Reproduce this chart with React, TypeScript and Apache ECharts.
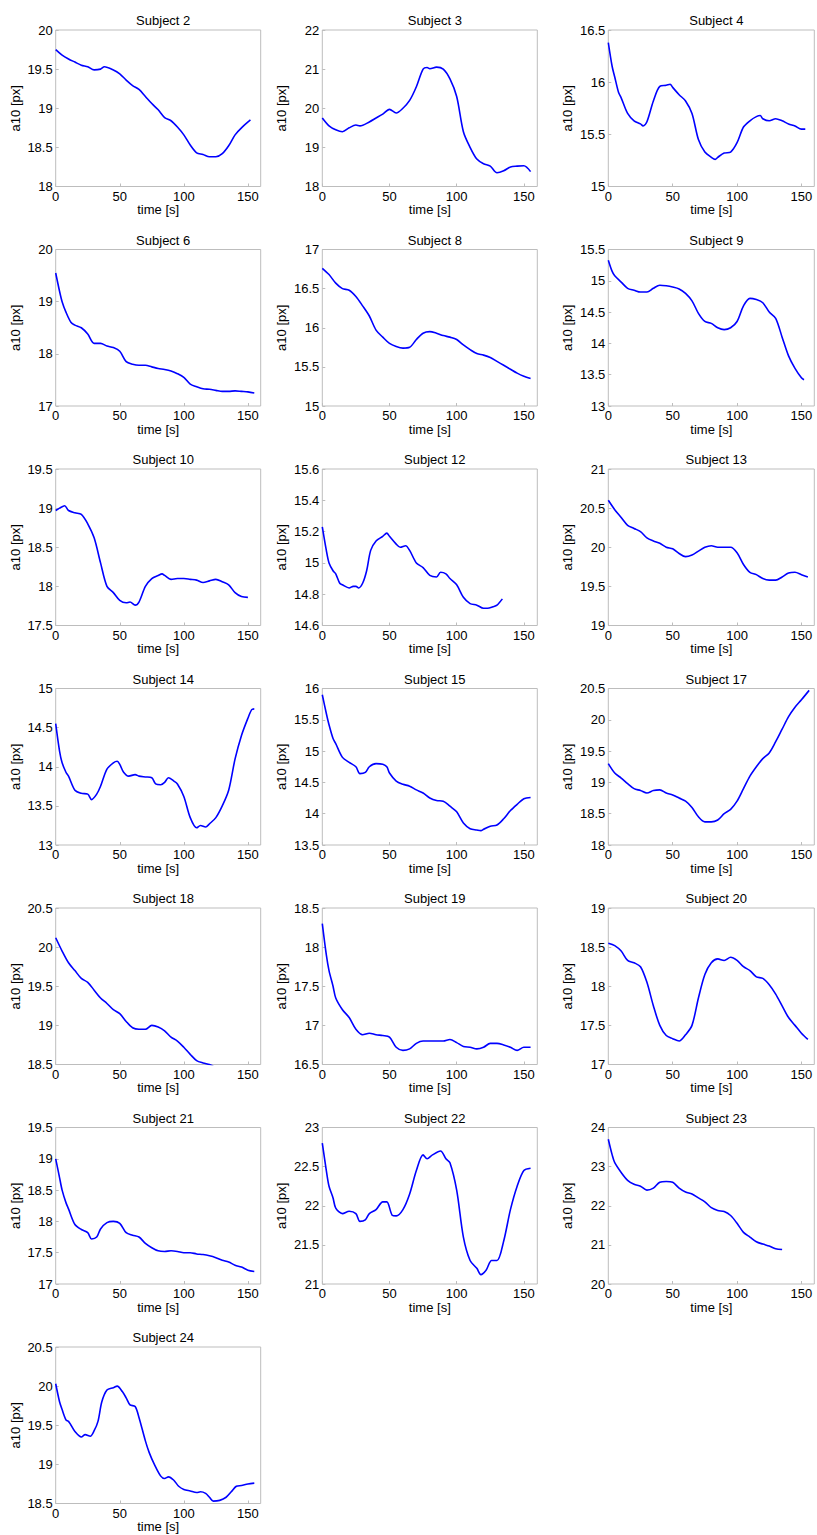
import React, { useEffect, useRef } from "react";
import * as echarts from "echarts";

// ---- data: [time s, a10 px] ----
const s2 = [[0,19.75],[5,19.68],[10,19.63],[15,19.59],[20,19.55],[25,19.53],[30,19.49],[35,19.5],[38,19.53],[45,19.49],[50,19.44],[55,19.36],[60,19.29],[65,19.24],[70,19.15],[75,19.06],[80,18.98],[85,18.88],[90,18.84],[95,18.76],[100,18.66],[105,18.53],[110,18.43],[115,18.41],[120,18.38],[125,18.38],[130,18.42],[135,18.52],[140,18.66],[145,18.75],[152,18.85]];
const s3 = [[0,19.75],[5,19.55],[10,19.45],[15,19.4],[20,19.5],[25,19.57],[28,19.55],[35,19.65],[40,19.75],[45,19.85],[50,19.97],[55,19.88],[60,20.0],[65,20.2],[70,20.55],[75,21.0],[78,21.04],[80,21.01],[85,21.05],[90,21.0],[95,20.75],[100,20.3],[105,19.4],[110,19.0],[115,18.7],[120,18.58],[125,18.52],[130,18.35],[135,18.4],[140,18.5],[145,18.52],[150,18.53],[155,18.38]];
const s4 = [[0,16.38],[3,16.15],[5,16.05],[8,15.9],[10,15.85],[15,15.7],[20,15.63],[25,15.6],[27,15.58],[30,15.62],[35,15.82],[40,15.96],[45,15.97],[48,15.98],[50,15.95],[55,15.88],[60,15.82],[65,15.7],[70,15.45],[75,15.33],[80,15.28],[83,15.26],[85,15.28],[90,15.32],[95,15.33],[100,15.42],[105,15.57],[110,15.63],[115,15.67],[118,15.68],[120,15.65],[125,15.63],[130,15.65],[135,15.63],[140,15.6],[145,15.58],[150,15.55],[153,15.55]];
const s6 = [[0,19.55],[3,19.2],[5,19.0],[8,18.8],[12,18.6],[15,18.55],[20,18.5],[25,18.38],[30,18.2],[35,18.2],[40,18.15],[45,18.12],[50,18.05],[55,17.85],[60,17.8],[65,17.78],[70,17.78],[75,17.75],[80,17.72],[85,17.7],[90,17.67],[95,17.62],[100,17.55],[105,17.42],[110,17.37],[115,17.33],[120,17.32],[125,17.3],[130,17.28],[135,17.28],[140,17.29],[145,17.28],[150,17.27],[155,17.25]];
const s8 = [[0,16.76],[5,16.68],[10,16.57],[15,16.5],[20,16.48],[25,16.4],[30,16.28],[35,16.15],[40,15.97],[45,15.88],[50,15.8],[55,15.76],[60,15.74],[65,15.75],[70,15.85],[75,15.93],[80,15.95],[85,15.93],[90,15.9],[95,15.88],[100,15.85],[105,15.78],[110,15.72],[115,15.67],[120,15.65],[125,15.62],[130,15.57],[135,15.52],[140,15.47],[145,15.42],[150,15.38],[155,15.35]];
const s9 = [[0,15.33],[3,15.15],[5,15.08],[10,14.98],[15,14.88],[20,14.85],[25,14.82],[30,14.82],[35,14.88],[40,14.93],[45,14.92],[50,14.9],[55,14.87],[60,14.8],[65,14.68],[70,14.48],[75,14.35],[80,14.32],[85,14.25],[90,14.22],[95,14.25],[100,14.35],[105,14.6],[110,14.72],[115,14.7],[120,14.65],[125,14.5],[130,14.4],[135,14.1],[140,13.8],[145,13.6],[150,13.45],[152,13.42]];
const s10 = [[0,18.97],[3,19.0],[7,19.03],[10,18.97],[15,18.94],[20,18.92],[25,18.8],[30,18.62],[35,18.3],[40,18.0],[45,17.92],[50,17.82],[55,17.79],[58,17.8],[62,17.76],[65,17.8],[70,18.0],[75,18.1],[80,18.14],[83,18.16],[85,18.14],[90,18.09],[95,18.1],[100,18.1],[105,18.09],[110,18.08],[115,18.05],[120,18.07],[125,18.09],[130,18.06],[135,18.02],[140,17.92],[145,17.87],[150,17.86]];
const s12 = [[0,15.23],[3,15.08],[5,15.0],[8,14.95],[10,14.93],[13,14.87],[15,14.86],[20,14.84],[23,14.85],[25,14.85],[27,14.84],[30,14.87],[33,14.95],[36,15.08],[40,15.14],[45,15.17],[48,15.19],[50,15.17],[55,15.12],[58,15.1],[62,15.11],[65,15.08],[70,15.0],[75,14.97],[80,14.92],[85,14.91],[88,14.94],[92,14.93],[95,14.9],[100,14.86],[105,14.78],[110,14.74],[115,14.73],[120,14.71],[123,14.71],[127,14.72],[130,14.73],[134,14.77]];
const s13 = [[0,20.6],[5,20.48],[10,20.38],[15,20.28],[20,20.24],[25,20.2],[30,20.12],[35,20.08],[40,20.05],[45,20.0],[50,19.98],[55,19.92],[60,19.88],[65,19.9],[70,19.95],[75,20.0],[80,20.02],[85,20.0],[90,20.0],[95,20.0],[100,19.93],[105,19.78],[110,19.68],[115,19.65],[120,19.6],[125,19.58],[130,19.58],[135,19.62],[140,19.67],[145,19.68],[150,19.65],[155,19.62]];
const s14 = [[0,14.55],[3,14.2],[5,14.05],[8,13.93],[10,13.88],[15,13.7],[20,13.66],[25,13.65],[28,13.58],[32,13.65],[35,13.75],[40,13.97],[45,14.05],[48,14.07],[50,14.03],[53,13.93],[57,13.88],[62,13.9],[65,13.88],[70,13.87],[75,13.86],[78,13.78],[82,13.77],[85,13.8],[88,13.86],[92,13.82],[95,13.78],[100,13.62],[105,13.35],[110,13.22],[113,13.25],[117,13.23],[120,13.27],[125,13.35],[130,13.5],[135,13.7],[140,14.1],[145,14.4],[150,14.62],[153,14.73],[155,14.74]];
const s15 = [[0,15.9],[3,15.6],[5,15.42],[8,15.2],[10,15.12],[15,14.9],[20,14.82],[25,14.75],[28,14.64],[32,14.66],[35,14.75],[40,14.8],[45,14.79],[48,14.75],[50,14.65],[55,14.52],[60,14.47],[65,14.44],[70,14.38],[75,14.33],[80,14.25],[85,14.21],[90,14.2],[95,14.12],[100,14.03],[105,13.85],[110,13.76],[115,13.74],[118,13.73],[120,13.75],[125,13.8],[130,13.82],[135,13.92],[140,14.05],[145,14.15],[150,14.24],[155,14.26]];
const s17 = [[0,19.3],[5,19.15],[10,19.07],[15,18.98],[20,18.9],[25,18.87],[30,18.83],[35,18.87],[40,18.88],[45,18.83],[50,18.8],[55,18.75],[60,18.7],[65,18.6],[70,18.45],[75,18.37],[80,18.37],[85,18.4],[90,18.5],[95,18.57],[100,18.7],[105,18.9],[110,19.1],[115,19.25],[120,19.38],[125,19.47],[130,19.65],[135,19.85],[140,20.05],[145,20.2],[150,20.32],[156,20.47]];
const s18 = [[0,20.12],[5,19.95],[10,19.8],[15,19.7],[20,19.6],[25,19.55],[30,19.45],[35,19.35],[40,19.28],[45,19.2],[50,19.15],[55,19.05],[60,18.97],[65,18.95],[70,18.95],[75,19.0],[80,18.98],[85,18.93],[90,18.85],[95,18.8],[100,18.72],[105,18.63],[110,18.55],[115,18.52],[120,18.5],[123,18.48]];
const s19 = [[0,18.3],[3,17.9],[5,17.7],[8,17.5],[10,17.35],[15,17.2],[20,17.1],[25,16.95],[30,16.88],[35,16.9],[40,16.88],[45,16.87],[50,16.85],[55,16.72],[60,16.68],[65,16.7],[70,16.77],[75,16.8],[80,16.8],[85,16.8],[90,16.8],[95,16.82],[100,16.78],[105,16.73],[110,16.72],[115,16.7],[120,16.72],[125,16.77],[130,16.77],[135,16.75],[140,16.72],[145,16.68],[150,16.72],[155,16.72]];
const s20 = [[0,18.55],[5,18.52],[10,18.45],[15,18.33],[20,18.3],[25,18.25],[30,18.05],[35,17.75],[40,17.5],[45,17.37],[50,17.33],[55,17.3],[60,17.38],[65,17.5],[70,17.85],[75,18.15],[80,18.3],[85,18.35],[90,18.33],[95,18.37],[100,18.33],[105,18.25],[110,18.2],[115,18.12],[120,18.1],[125,18.02],[130,17.9],[135,17.75],[140,17.6],[145,17.5],[150,17.4],[155,17.32]];
const s21 = [[0,19.0],[3,18.7],[5,18.5],[8,18.3],[10,18.2],[15,17.95],[20,17.87],[25,17.82],[28,17.72],[32,17.75],[35,17.88],[40,17.98],[45,18.0],[50,17.97],[55,17.82],[60,17.78],[65,17.75],[70,17.65],[75,17.58],[80,17.53],[85,17.52],[90,17.53],[95,17.52],[100,17.5],[105,17.5],[110,17.48],[115,17.47],[120,17.45],[125,17.42],[130,17.38],[135,17.35],[140,17.3],[145,17.27],[150,17.22],[155,17.2]];
const s22 = [[0,22.8],[3,22.45],[5,22.25],[8,22.1],[10,21.97],[15,21.9],[20,21.93],[25,21.9],[28,21.8],[32,21.82],[35,21.9],[40,21.95],[45,22.05],[48,22.05],[52,21.88],[55,21.87],[60,21.95],[65,22.15],[70,22.45],[75,22.65],[78,22.6],[82,22.65],[88,22.7],[92,22.6],[95,22.55],[100,22.2],[105,21.6],[110,21.3],[115,21.2],[118,21.12],[122,21.18],[126,21.3],[130,21.3],[135,21.55],[140,21.95],[145,22.25],[150,22.45],[155,22.48]];
const s23 = [[0,23.7],[3,23.3],[5,23.1],[10,22.85],[15,22.65],[20,22.55],[25,22.5],[30,22.4],[35,22.45],[40,22.6],[45,22.62],[50,22.6],[55,22.45],[60,22.35],[65,22.3],[70,22.2],[75,22.1],[80,21.95],[85,21.88],[90,21.85],[95,21.75],[100,21.55],[105,21.32],[110,21.2],[115,21.08],[120,21.02],[125,20.97],[130,20.9],[135,20.88]];
const s24 = [[0,20.03],[3,19.8],[5,19.7],[8,19.57],[10,19.55],[12,19.5],[15,19.42],[20,19.35],[23,19.38],[27,19.36],[30,19.43],[33,19.55],[36,19.8],[40,19.95],[45,19.98],[48,20.0],[52,19.93],[55,19.85],[58,19.76],[62,19.74],[65,19.6],[70,19.3],[73,19.15],[77,19.0],[82,18.85],[85,18.82],[88,18.84],[92,18.8],[96,18.72],[100,18.68],[105,18.66],[110,18.64],[113,18.65],[117,18.63],[120,18.58],[123,18.53],[128,18.54],[133,18.58],[137,18.65],[141,18.72],[145,18.73],[150,18.75],[155,18.76]];

const subjectNames = ["Subject 2","Subject 3","Subject 4","Subject 6","Subject 8","Subject 9","Subject 10","Subject 12","Subject 13","Subject 14","Subject 15","Subject 17","Subject 18","Subject 19","Subject 20","Subject 21","Subject 22","Subject 23","Subject 24"];
const subjectData = [s2,s3,s4,s6,s8,s9,s10,s12,s13,s14,s15,s17,s18,s19,s20,s21,s22,s23,s24];
// [min, max, step] of each y axis
const yRanges = [[18,20,0.5],[18,22,1],[15,16.5,0.5],[17,20,1],[15,17,0.5],[13,15.5,0.5],[17.5,19.5,0.5],[14.6,15.6,0.2],[19,21,0.5],[13,15,0.5],[13.5,16,0.5],[18,20.5,0.5],[18.5,20.5,0.5],[16.5,18.5,0.5],[17,19,0.5],[17,19.5,0.5],[21,23,0.5],[20,24,1],[18.5,20.5,0.5]];
const xTicks = [0, 50, 100, 150];
const xMax = 160;
const xName = "time [s]";
const yName = "a10 [px]";

const FONT = "'Liberation Sans', Arial, Helvetica, sans-serif";
const colLeft = [55.7, 322.3, 608.3];
const colWidth = [205, 215, 206];
const rowTop0 = 30;
const rowStep = 219.5;
const plotH = 156.5;

export default function App() {
  const ref = useRef<HTMLDivElement>(null);
  useEffect(() => {
    if (!ref.current) return;
    const chart = echarts.init(ref.current, null, { renderer: "svg" });
    const grids: any[] = [];
    const xAxes: any[] = [];
    const yAxes: any[] = [];
    const series: any[] = [];
    const titles: any[] = [];
    subjectNames.forEach((name, i) => {
      const r = Math.floor(i / 3);
      const c = i % 3;
      const top = rowTop0 + rowStep * r;
      grids.push({
        left: colLeft[c], top, width: colWidth[c], height: plotH,
        show: true, borderColor: "#bdbdbd", borderWidth: 1, backgroundColor: "#fff",
      });
      titles.push({
        text: name, left: colLeft[c] + colWidth[c] / 2, top: top - 21, textAlign: "center",
        textStyle: { fontFamily: FONT, fontSize: 13, fontWeight: "normal", color: "#000" },
      });
      xAxes.push({
        gridIndex: i, type: "value", min: 0, max: xMax, interval: 50,
        name: xName, nameLocation: "middle", nameGap: 14,
        nameTextStyle: { fontFamily: FONT, fontSize: 13, color: "#000" },
        axisLine: { show: false },
        axisTick: { show: true, inside: true, length: 3, lineStyle: { color: "#bdbdbd" }, customValues: xTicks },
        axisLabel: { color: "#000", fontFamily: FONT, fontSize: 13, margin: 3, customValues: xTicks },
        splitLine: { show: false },
      });
      const [mn, mx, st] = yRanges[i];
      yAxes.push({
        gridIndex: i, type: "value", min: mn, max: mx, interval: st,
        name: yName, nameLocation: "middle", nameGap: 34, nameRotate: 90,
        nameTextStyle: { fontFamily: FONT, fontSize: 13, color: "#000" },
        axisLine: { show: false },
        axisTick: { show: true, inside: true, length: 3, lineStyle: { color: "#bdbdbd" } },
        axisLabel: {
          color: "#000", fontFamily: FONT, fontSize: 13, margin: 3,
          formatter: (v: number) => String(Math.round(v * 100) / 100),
        },
        splitLine: { show: false },
      });
      series.push({
        type: "line", xAxisIndex: i, yAxisIndex: i, data: subjectData[i],
        showSymbol: false, smooth: 0.3, clip: true,
        lineStyle: { color: "#0000ff", width: 1.6 },
      });
    });
    chart.setOption({
      animation: false,
      backgroundColor: "#ffffff",
      title: titles,
      grid: grids,
      xAxis: xAxes,
      yAxis: yAxes,
      series,
    });
    return () => chart.dispose();
  }, []);
  return (
    <div
      ref={ref}
      style={{ position: "absolute", left: 0, top: 0, width: 817, height: 1535, background: "#fff" }}
    />
  );
}
